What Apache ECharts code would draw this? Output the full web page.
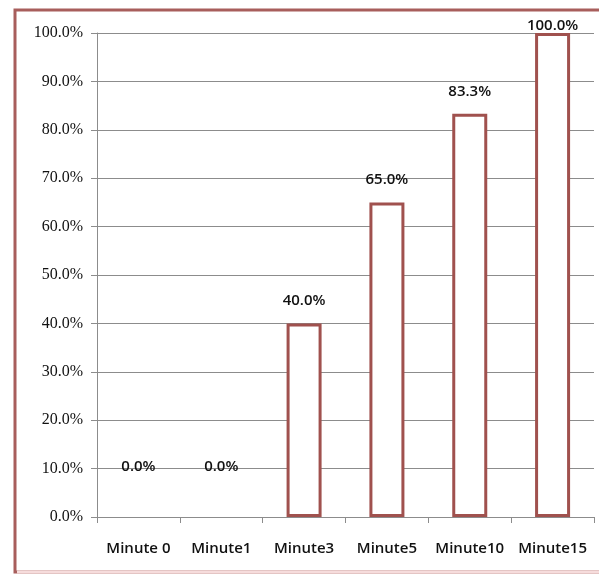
<!DOCTYPE html>
<html>
<head>
<meta charset="utf-8">
<script src="https://cdn.jsdelivr.net/npm/echarts@6/dist/echarts.min.js"></script>
<style>
  html, body { margin: 0; padding: 0; background: #ffffff; }
  #chart { width: 599px; height: 575px; }
</style>
</head>
<body>
<div id="chart"></div>
<script>
// Share of responders by elapsed minute
const categories = ['Minute 0', 'Minute1', 'Minute3', 'Minute5', 'Minute10', 'Minute15'];
const percentValues = [0.0, 0.0, 40.0, 65.0, 83.3, 100.0];
const yTicks = [0, 10, 20, 30, 40, 50, 60, 70, 80, 90, 100];

const barColor = '#a0514e';
const gridColor = '#8c8c8c';
const labelFont = 'Open Sans';

// Label distance above each bar: zero bars float higher, the full bar hugs its top
function labelDistance(v) {
  if (v === 0) return 43;
  if (v >= 100) return 0;
  return 15;
}

const barData = percentValues.map(v => ({
  value: v,
  label: { distance: labelDistance(v) },
  // a zero-height bar leaves no visible outline
  itemStyle: v === 0 ? { borderWidth: 0, color: 'rgba(0,0,0,0)' } : undefined
}));

const chart = echarts.init(document.getElementById('chart'), null, { renderer: 'canvas' });
chart.setOption({
  animation: false,
  backgroundColor: '#ffffff',
  grid: { left: 97, right: 5, top: 33, bottom: 58, containLabel: false },
  graphic: [{
    type: 'rect',
    shape: { x: 15, y: 10, width: 620, height: 562 },
    style: { fill: 'none', stroke: '#a85e5c', lineWidth: 3 },
    z: 0
  }, {
    type: 'line',
    shape: { x1: 17, y1: 572, x2: 599, y2: 572 },
    style: { stroke: '#f6dcdc', lineWidth: 3 },
    z: 1
  }],
  xAxis: {
    type: 'category',
    data: categories,
    boundaryGap: true,
    axisLine: { show: true, lineStyle: { color: gridColor, width: 1 } },
    axisTick: { show: true, alignWithLabel: false, length: 6, lineStyle: { color: gridColor } },
    axisLabel: {
      color: '#111',
      fontFamily: labelFont,
      fontSize: 15,
      fontWeight: 600,
      margin: 24,
      interval: 0
    }
  },
  yAxis: {
    type: 'value',
    min: yTicks[0],
    max: yTicks[yTicks.length - 1],
    interval: yTicks[1] - yTicks[0],
    axisLine: { show: true, lineStyle: { color: gridColor, width: 1 } },
    axisTick: { show: true, length: 6, lineStyle: { color: gridColor } },
    splitLine: { show: true, lineStyle: { color: gridColor, width: 1 } },
    axisLabel: {
      color: '#111',
      fontFamily: 'Liberation Serif',
      fontSize: 16,
      margin: 14,
      formatter: v => v.toFixed(1) + '%'
    }
  },
  series: [{
    type: 'bar',
    data: barData,
    barWidth: 35,
    itemStyle: { color: '#ffffff', borderColor: barColor, borderWidth: 3 },
    label: {
      show: true,
      position: 'top',
      color: '#111',
      fontFamily: labelFont,
      fontSize: 15,
      fontWeight: 600,
      formatter: p => p.value.toFixed(1) + '%'
    }
  }]
});
</script>
</body>
</html>
